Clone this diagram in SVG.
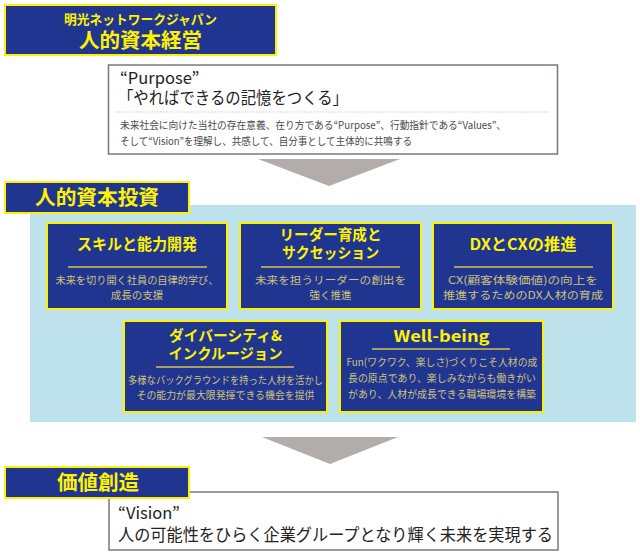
<svg xmlns="http://www.w3.org/2000/svg" width="640" height="554" viewBox="0 0 640 554">
<style>
.hdr{fill:#1f3590;stroke:#fff200;stroke-width:2}
.card{fill:#1f3590;stroke:#fff200;stroke-width:2}
.white{fill:#fff;stroke:#7d7878;stroke-width:1.5}
.ttl{font-family:"Noto Sans CJK JP","Noto Sans",sans-serif;font-weight:bold;fill:#fff200;text-anchor:middle}
.dsc{font-family:"Noto Sans CJK JP","Noto Sans",sans-serif;fill:#cfc277;text-anchor:middle;font-size:10.5px}
.sep{stroke:#a99f5c;stroke-width:2}
.tri{fill:#b2adaa}
.dk{fill:#222;font-family:"Noto Sans CJK JP","Noto Sans",sans-serif}
.gy{fill:#4a4a4a;font-family:"Noto Sans CJK JP","Noto Sans",sans-serif;font-size:10.3px}
</style>

<g id="connectors">
<polygon class="tri" points="258,159 400,159 329,186"/>
<polygon class="tri" points="262,437 398,437 330,464"/>
</g>

<g id="header-top">
<rect class="hdr" x="5" y="5" width="271" height="50"/>
<text class="ttl" x="140.5" y="24" font-size="13" textLength="153" lengthAdjust="spacingAndGlyphs">明光ネットワークジャパン</text>
<text class="ttl" x="140.5" y="48" font-size="20" textLength="123" lengthAdjust="spacingAndGlyphs">人的資本経営</text>
</g>

<g id="purpose">
<rect class="white" x="108.5" y="65" width="449" height="89"/>
<line x1="115" y1="112" x2="550" y2="112" stroke="#d8d8d8" stroke-width="1" stroke-dasharray="2,1"/>
<text class="dk" x="120" y="84" font-size="16.5">“Purpose”</text>
<text class="dk" x="118" y="104" font-size="16.5" textLength="230" lengthAdjust="spacingAndGlyphs">「やればできるの記憶をつくる」</text>
<text class="gy" x="120" y="129" textLength="386" lengthAdjust="spacingAndGlyphs">未来社会に向けた当社の存在意義、在り方である“Purpose”、行動指針である“Values”、</text>
<text class="gy" x="120" y="145" textLength="292" lengthAdjust="spacingAndGlyphs">そして“Vision”を理解し、共感して、自分事として主体的に共鳴する</text>
</g>

<g id="panel">
<rect x="30" y="205" width="606" height="217" fill="#bee2ec"/>
</g>

<g id="header-invest">
<rect class="hdr" x="5" y="182" width="184" height="31"/>
<text class="ttl" x="97" y="205" font-size="20" textLength="124" lengthAdjust="spacingAndGlyphs">人的資本投資</text>
</g>

<g id="card-skill">
<rect class="card" x="47" y="223" width="180" height="86"/>
<text class="ttl" x="137" y="250" font-size="15.5" textLength="120" lengthAdjust="spacingAndGlyphs">スキルと能力開発</text>
<line class="sep" x1="68" y1="267" x2="207" y2="267"/>
<text class="dsc" x="137" y="284" textLength="163" lengthAdjust="spacingAndGlyphs">未来を切り開く社員の自律的学び、</text>
<text class="dsc" x="137" y="299">成長の支援</text>
</g>

<g id="card-leader">
<rect class="card" x="240" y="223" width="181" height="86"/>
<text class="ttl" x="330.5" y="240" font-size="14.5" textLength="102" lengthAdjust="spacingAndGlyphs">リーダー育成と</text>
<text class="ttl" x="330.5" y="258" font-size="14.5" textLength="97" lengthAdjust="spacingAndGlyphs">サクセッション</text>
<line class="sep" x1="261" y1="267" x2="400" y2="267"/>
<text class="dsc" x="330.5" y="284" textLength="151" lengthAdjust="spacingAndGlyphs">未来を担うリーダーの創出を</text>
<text class="dsc" x="330.5" y="299">強く推進</text>
</g>

<g id="card-dx">
<rect class="card" x="433" y="223" width="180" height="86"/>
<text class="ttl" x="523" y="250" font-size="15.5" textLength="107" lengthAdjust="spacingAndGlyphs">DXとCXの推進</text>
<line class="sep" x1="454" y1="267" x2="593" y2="267"/>
<text class="dsc" x="523" y="284" textLength="150" lengthAdjust="spacingAndGlyphs">CX(顧客体験価値)の向上を</text>
<text class="dsc" x="523" y="299" textLength="160" lengthAdjust="spacingAndGlyphs">推進するためのDX人材の育成</text>
</g>

<g id="card-diversity">
<rect class="card" x="124" y="321" width="203" height="91"/>
<text class="ttl" x="225.5" y="341" font-size="14.5" textLength="113" lengthAdjust="spacingAndGlyphs">ダイバーシティ&amp;</text>
<text class="ttl" x="225.5" y="359" font-size="14.5" textLength="114" lengthAdjust="spacingAndGlyphs">インクルージョン</text>
<line class="sep" x1="156" y1="367" x2="294" y2="367"/>
<text class="dsc" x="225.5" y="384" textLength="195" lengthAdjust="spacingAndGlyphs">多様なバックグラウンドを持った人材を活かし</text>
<text class="dsc" x="225.5" y="399" textLength="178" lengthAdjust="spacingAndGlyphs">その能力が最大限発揮できる機会を提供</text>
</g>

<g id="card-wellbeing">
<rect class="card" x="340" y="321" width="203" height="91"/>
<text class="ttl" x="441.5" y="342" font-size="16" textLength="96" lengthAdjust="spacingAndGlyphs">Well-being</text>
<line class="sep" x1="372" y1="349" x2="510" y2="349"/>
<text class="dsc" x="442" y="366" textLength="191" lengthAdjust="spacingAndGlyphs">Fun(ワクワク、楽しさ)づくりこそ人材の成</text>
<text class="dsc" x="442" y="382" textLength="188" lengthAdjust="spacingAndGlyphs">長の原点であり、楽しみながらも働きがい</text>
<text class="dsc" x="442" y="398" textLength="188" lengthAdjust="spacingAndGlyphs">があり、人材が成長できる職場環境を構築</text>
</g>

<g id="vision">
<rect class="white" x="109" y="492" width="449" height="58"/>
<text class="dk" x="118" y="519" font-size="16.5">“Vision”</text>
<text class="dk" x="118" y="541" font-size="17" textLength="435" lengthAdjust="spacingAndGlyphs">人の可能性をひらく企業グループとなり輝く未来を実現する</text>
</g>

<g id="header-value">
<rect class="hdr" x="5" y="467" width="184" height="31"/>
<text class="ttl" x="98" y="490" font-size="20" textLength="82" lengthAdjust="spacingAndGlyphs">価値創造</text>
</g>
</svg>
